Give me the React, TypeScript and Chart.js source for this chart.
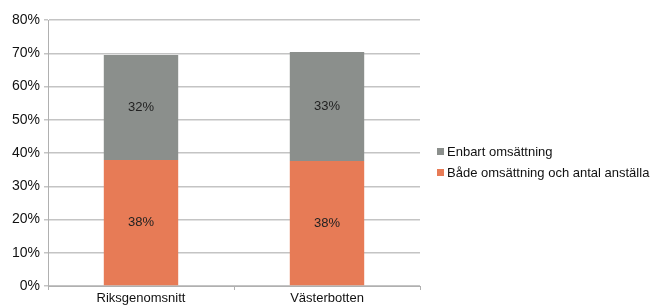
import React, { useEffect, useRef } from "react";
import { Chart, registerables } from "chart.js";

Chart.register(...registerables);

const categories = ["Riksgenomsnitt", "Västerbotten"];
const seriesNames = ["Både omsättning och antal anställa", "Enbart omsättning"];
const bothValues = [37.9, 37.6];
const onlyRevenueValues = [31.6, 32.8];
const valueLabels = [["38%", "38%"], ["32%", "33%"]];
const yTicks = [0, 10, 20, 30, 40, 50, 60, 70, 80];
const colors = ["#E77B56", "#8B8F8C"];

const FONT = "'Liberation Sans', Arial, Helvetica, sans-serif";

export default function App() {
  const ref = useRef<HTMLCanvasElement | null>(null);
  useEffect(() => {
    if (!ref.current) return;
    const labelPlugin = {
      id: "valueLabels",
      afterDatasetsDraw(chart: any) {
        const ctx = chart.ctx;
        ctx.save();
        ctx.font = `13px ${FONT}`;
        ctx.fillStyle = "#222";
        ctx.textAlign = "center";
        ctx.textBaseline = "middle";
        chart.data.datasets.forEach((ds: any, di: number) => {
          const meta = chart.getDatasetMeta(di);
          meta.data.forEach((el: any, i: number) => {
            const y = (el.y + el.base) / 2;
            ctx.fillText(valueLabels[di][i], el.x, y);
          });
        });
        ctx.restore();
      },
    };
    const legendPlugin = {
      id: "customLegend",
      afterDraw(chart: any) {
        const ctx = chart.ctx;
        ctx.save();
        ctx.font = `13px ${FONT}`;
        ctx.textBaseline = "middle";
        ctx.textAlign = "left";
        const items = [
          { name: seriesNames[1], color: colors[1] },
          { name: seriesNames[0], color: colors[0] },
        ];
        items.forEach((it, i) => {
          const cy = 151 + i * 21;
          ctx.fillStyle = it.color;
          ctx.fillRect(437, cy - 3, 7, 7);
          ctx.fillStyle = "#111";
          ctx.fillText(it.name, 447, cy + 1);
        });
        ctx.restore();
      },
    };
    const chart = new Chart(ref.current, {
      type: "bar",
      data: {
        labels: categories,
        datasets: [
          {
            label: seriesNames[0],
            data: bothValues,
            backgroundColor: colors[0],
            categoryPercentage: 1,
            barPercentage: 0.4,
          },
          {
            label: seriesNames[1],
            data: onlyRevenueValues,
            backgroundColor: colors[1],
            categoryPercentage: 1,
            barPercentage: 0.4,
          },
        ],
      },
      options: {
        animation: false,
        responsive: false,
        maintainAspectRatio: false,
        layout: { padding: { top: 20, right: 232, left: 0, bottom: 0 } },
        plugins: { legend: { display: false }, tooltip: { enabled: false } },
        scales: {
          x: {
            stacked: true,
            afterFit: (s: any) => {
              s.height = 20;
            },
            grid: {
              display: true,
              drawOnChartArea: false,
              drawTicks: true,
              tickLength: 4,
              color: "#b0b0b0",
              offset: true,
            },
            border: { display: true, color: "#b0b0b0", width: 1 },
            ticks: {
              color: "#111",
              font: { family: FONT, size: 13 },
              padding: 1,
              maxRotation: 0,
            },
          },
          y: {
            stacked: true,
            min: 0,
            max: 80,
            afterFit: (s: any) => {
              s.width = 48;
            },
            afterBuildTicks: (s: any) => {
              s.ticks = yTicks.map((v) => ({ value: v }));
            },
            grid: {
              color: "#c4c4c4",
              lineWidth: 1.5,
              tickLength: 4,
              drawTicks: true,
            },
            border: { display: true, color: "#b0b0b0", width: 1 },
            ticks: {
              color: "#111",
              font: { family: FONT, size: 14 },
              padding: 4,
              callback: (v: any) => `${v}%`,
            },
          },
        },
      },
      plugins: [labelPlugin, legendPlugin],
    });
    return () => chart.destroy();
  }, []);
  return (
    <div style={{ position: "fixed", left: 0, top: 0, width: 652, height: 306, background: "#fff" }}>
      <canvas ref={ref} width={652} height={306} style={{ width: 652, height: 306 }} />
    </div>
  );
}
